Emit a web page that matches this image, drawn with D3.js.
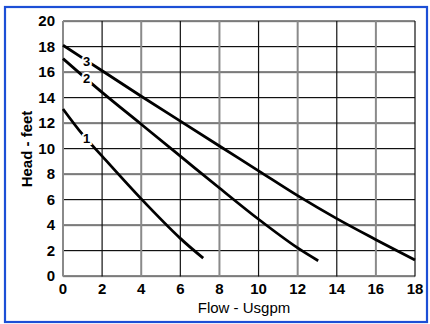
<!DOCTYPE html>
<html>
<head>
<meta charset="utf-8">
<script src="https://cdn.jsdelivr.net/npm/d3@7/dist/d3.min.js"></script>
<style>
  html, body { margin: 0; padding: 0; background: #fff; }
  svg { display: block; }
</style>
</head>
<body>
<svg id="chart" width="430" height="324"></svg>
<script>
// Pump performance curves: head (feet) against flow (US gpm)
const xTicks = [0, 2, 4, 6, 8, 10, 12, 14, 16, 18];
const yTicks = [0, 2, 4, 6, 8, 10, 12, 14, 16, 18, 20];

const curve1 = [[0, 13.1], [1, 11.1], [2, 9.4], [4, 6.05], [6, 2.95], [7.17, 1.4]];
const curve2 = [[0, 17.05], [2, 14.4], [4, 11.9], [6, 9.4], [8, 6.9], [10, 4.45], [12, 2.2], [13.05, 1.2]];
const curve3 = [[0, 18.1], [2, 16.1], [4, 14.1], [6, 12.15], [8, 10.2], [10, 8.25], [12, 6.3], [14, 4.5], [16, 2.85], [18, 1.25]];

const curveNames = ["1", "2", "3"];
const curveLabelAt = [[1.21, 10.8], [1.21, 15.5], [1.21, 16.8]];

const xTitle = "Flow - Usgpm";
const yTitle = "Head - feet";

const svg = d3.select("#chart");
const plot = { left: 63, right: 415, top: 21, bottom: 276 };

// outer blue frame
svg.append("rect")
  .attr("x", 5).attr("y", 7)
  .attr("width", 422).attr("height", 315)
  .attr("fill", "#fff")
  .attr("stroke", "#1c4fd6")
  .attr("stroke-width", 2.2);

const x = d3.scaleLinear().domain([0, 18]).range([plot.left, plot.right]);
const y = d3.scaleLinear().domain([0, 20]).range([plot.bottom, plot.top]);

const font = "'Liberation Sans', Arial, Helvetica, sans-serif";

// horizontal grid lines
const hg = svg.append("g");
hg.selectAll("line.shade").data(yTicks).join("line")
  .attr("class", "shade")
  .attr("x1", plot.left).attr("x2", plot.right)
  .attr("y1", d => y(d) + 1).attr("y2", d => y(d) + 1)
  .attr("stroke", "#cfcfcf").attr("stroke-width", 1);
hg.selectAll("line.main").data(yTicks).join("line")
  .attr("class", "main")
  .attr("x1", plot.left).attr("x2", plot.right)
  .attr("y1", d => y(d)).attr("y2", d => y(d))
  .attr("stroke", "#111").attr("stroke-width", 1.2);

// vertical grid lines: grey on multiples of 4, black otherwise
svg.append("g").selectAll("line").data(xTicks).join("line")
  .attr("x1", d => x(d)).attr("x2", d => x(d))
  .attr("y1", plot.top).attr("y2", plot.bottom + 0.5)
  .attr("stroke", d => d % 4 === 0 ? "#8a8a8a" : "#111")
  .attr("stroke-width", d => d % 4 === 0 ? 2 : 1.2);

// y tick labels
svg.append("g").selectAll("text").data(yTicks).join("text")
  .attr("x", 55).attr("y", d => y(d))
  .attr("dy", "0.36em")
  .attr("text-anchor", "end")
  .attr("font-family", font).attr("font-weight", "bold").attr("font-size", 15)
  .attr("fill", "#000")
  .text(d => d);

// x tick labels
svg.append("g").selectAll("text").data(xTicks).join("text")
  .attr("x", d => x(d)).attr("y", 294)
  .attr("text-anchor", "middle")
  .attr("font-family", font).attr("font-weight", "bold").attr("font-size", 15)
  .attr("fill", "#000")
  .text(d => d);

// axis titles
svg.append("text")
  .attr("x", 244).attr("y", 313)
  .attr("text-anchor", "middle")
  .attr("font-family", font).attr("font-size", 15)
  .attr("fill", "#000")
  .text(xTitle);

svg.append("text")
  .attr("transform", "translate(32,149) rotate(-90)")
  .attr("text-anchor", "middle")
  .attr("font-family", font).attr("font-weight", "bold").attr("font-size", 15)
  .attr("fill", "#000")
  .text(yTitle);

// performance curves
const line = d3.line()
  .x(d => x(d[0])).y(d => y(d[1]))
  .curve(d3.curveCatmullRom.alpha(0.5));

svg.append("g").selectAll("path").data([curve1, curve2, curve3]).join("path")
  .attr("d", line)
  .attr("fill", "none")
  .attr("stroke", "#000")
  .attr("stroke-width", 2.8)
  .attr("stroke-linecap", "butt");

// curve numbers, with a white halo that breaks the line behind them
svg.append("g").selectAll("text").data(curveNames).join("text")
  .attr("x", (d, i) => x(curveLabelAt[i][0]))
  .attr("y", (d, i) => y(curveLabelAt[i][1]))
  .attr("dy", "0.36em")
  .attr("text-anchor", "middle")
  .attr("font-family", font).attr("font-weight", "bold").attr("font-size", 13)
  .attr("fill", "#000")
  .attr("stroke", "#fff").attr("stroke-width", 4)
  .attr("paint-order", "stroke")
  .text(d => d);
</script>
</body>
</html>
